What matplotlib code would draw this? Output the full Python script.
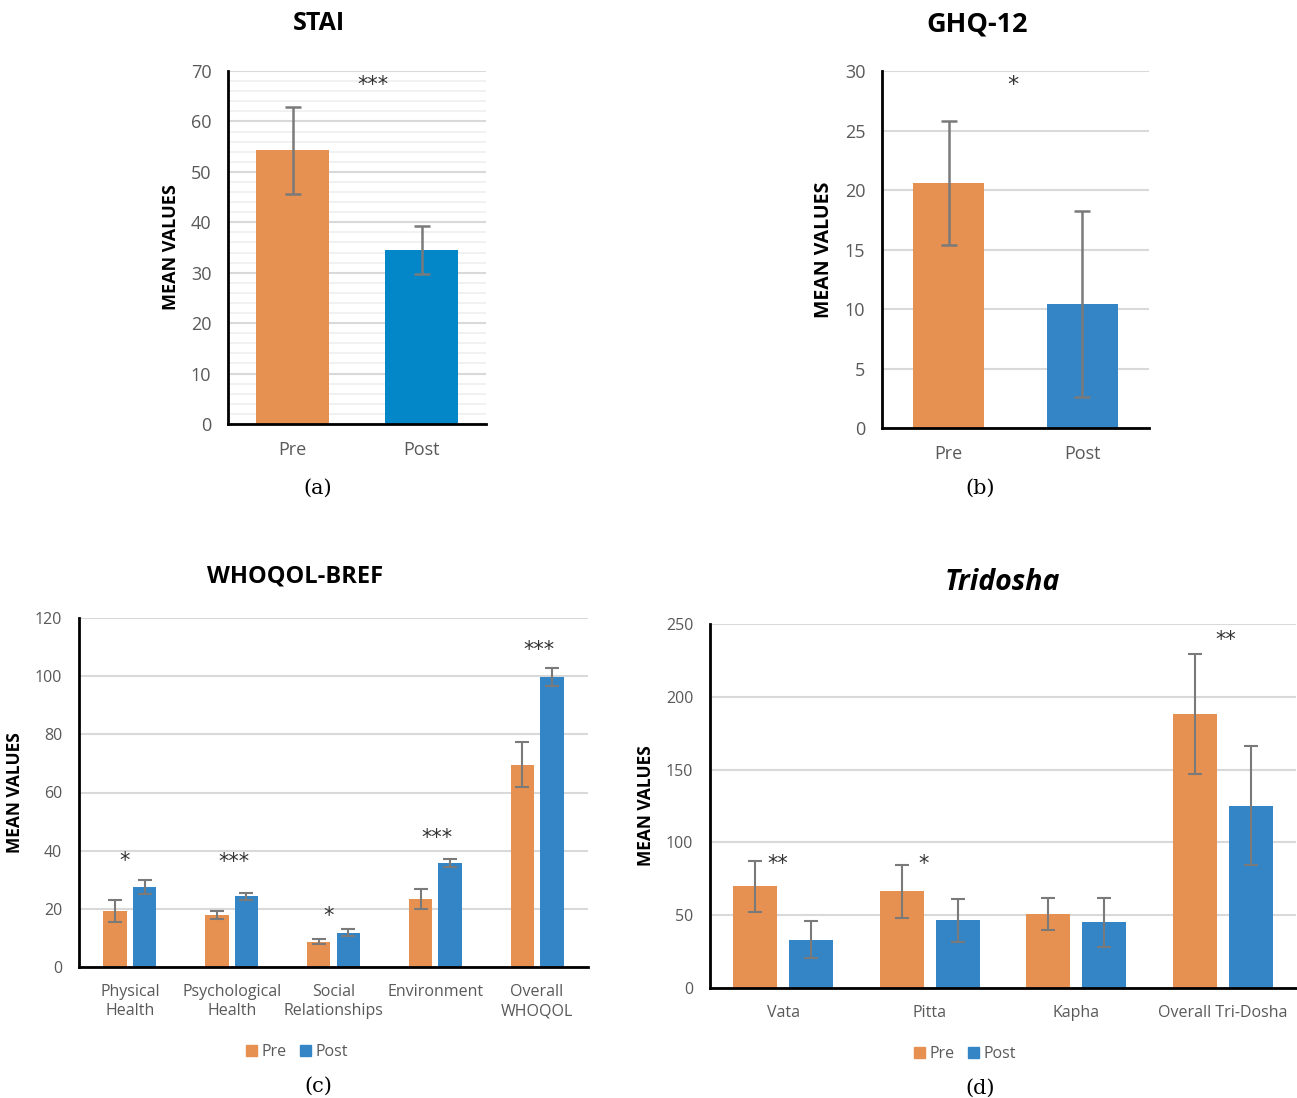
import numpy as np
import matplotlib.pyplot as plt
from matplotlib.patches import Patch

# ---- data ----
stai_labels = ['Pre', 'Post']
stai_mean = [54.3, 34.5]
stai_err = [8.6, 4.8]

ghq_labels = ['Pre', 'Post']
ghq_mean = [20.6, 10.4]
ghq_err = [5.2, 7.8]

who_labels = ['Physical\nHealth', 'Psychological\nHealth', 'Social\nRelationships', 'Environment', 'Overall\nWHOQOL']
who_pre = [19.3, 17.8, 8.7, 23.5, 69.6]
who_pre_err = [3.9, 1.3, 0.8, 3.4, 7.7]
who_post = [27.6, 24.3, 11.8, 35.8, 99.7]
who_post_err = [2.4, 1.3, 1.1, 1.3, 3.1]
who_stars = ['*', '***', '*', '***', '***']
who_star_y = [36.5, 36.0, 17.5, 44.5, 109.0]

tri_labels = ['Vata', 'Pitta', 'Kapha', 'Overall Tri-Dosha']
tri_pre = [69.8, 66.3, 51.0, 188.2]
tri_pre_err = [17.3, 18.2, 10.9, 41.3]
tri_post = [33.1, 46.4, 45.0, 125.3]
tri_post_err = [12.6, 14.8, 17.1, 40.7]
tri_stars = ['**', '*', '', '**']
tri_star_y = [85.0, 85.0, 0, 239.0]

ORANGE = '#E69151'
BLUE = '#3385C6'
BLUE_A = '#0487C9'
ERR = '#7A7A7A'
GRID = '#D9D9D9'
TICK = '#595959'
FONT = 'Open Sans'

W, H = 1297, 1098
fig = plt.figure(figsize=(W / 100, H / 100), dpi=100)


def rect(l, t, r, b):
    return [l / W, 1 - b / H, (r - l) / W, (b - t) / H]


def style(ax, ymax, step, size):
    ax.set_ylim(0, ymax)
    ax.set_yticks(np.arange(0, ymax + 1, step))
    ax.yaxis.grid(True, color=GRID, lw=1.5)
    ax.set_axisbelow(True)
    for s in ['top', 'right']:
        ax.spines[s].set_visible(False)
    ax.spines['left'].set_linewidth(2)
    ax.spines['bottom'].set_linewidth(2)
    ax.tick_params(which='both', length=0)
    ax.tick_params(labelsize=size, labelcolor=TICK, pad=12)
    for lab in ax.get_xticklabels() + ax.get_yticklabels():
        lab.set_family(FONT)


ekw = dict(ecolor=ERR, elinewidth=1.8, capsize=6, capthick=1.8)
sekw = dict(ecolor=ERR, elinewidth=1.5, capsize=5, capthick=1.5)

# ---- (a) STAI ----
ax = fig.add_axes(rect(228, 71, 486, 424))
x = np.arange(len(stai_labels))
ax.bar(x, stai_mean, width=0.57, color=[ORANGE, BLUE_A], yerr=stai_err, error_kw=ekw)
ax.set_xlim(-0.5, 1.5)
ax.set_xticks(x)
ax.set_xticklabels(stai_labels)
ax.set_yticks(np.arange(0, 71, 2), minor=True)
ax.yaxis.grid(True, which='minor', color='#EFEFEF', lw=1.2)
style(ax, 70, 10, 13)
ax.set_ylabel('MEAN VALUES', fontsize=13, fontweight='bold', family=FONT, labelpad=8)
ax.text(0.62, 67.3, '***', ha='center', va='center', fontsize=15, color='#333333')
fig.text(319 / W, 1 - 24 / H, 'STAI', ha='center', va='center', fontsize=18, fontweight='bold', family=FONT)
fig.text(318 / W, 1 - 488 / H, '(a)', ha='center', va='center', fontsize=15, family='DejaVu Serif')

# ---- (b) GHQ-12 ----
ax = fig.add_axes(rect(882, 71, 1149, 428))
x = np.arange(len(ghq_labels))
ax.bar(x, ghq_mean, width=0.53, color=[ORANGE, BLUE], yerr=ghq_err, error_kw=ekw)
ax.set_xlim(-0.5, 1.5)
ax.set_xticks(x)
ax.set_xticklabels(ghq_labels)
style(ax, 30, 5, 13)
ax.set_ylabel('MEAN VALUES', fontsize=14, fontweight='bold', family=FONT, labelpad=8)
ax.text(0.48, 28.8, '*', ha='center', va='center', fontsize=16, color='#333333')
fig.text(977 / W, 1 - 24 / H, 'GHQ-12', ha='center', va='center', fontsize=19.5, fontweight='bold', family=FONT)
fig.text(980 / W, 1 - 488 / H, '(b)', ha='center', va='center', fontsize=15, family='DejaVu Serif')

# ---- (c) WHOQOL-BREF ----
ax = fig.add_axes(rect(79, 618, 588, 967))
x = np.arange(len(who_labels))
bw = 0.23
ax.bar(x - 0.145, who_pre, width=bw, color=ORANGE, yerr=who_pre_err, error_kw=sekw)
ax.bar(x + 0.145, who_post, width=bw, color=BLUE, yerr=who_post_err, error_kw=sekw)
for xi, s, yy in zip(x, who_stars, who_star_y):
    ax.text(xi + (0.02 if len(s) > 1 else -0.05), yy, s, ha='center', va='center',
            fontsize=15, color='#333333')
ax.set_xlim(-0.5, len(x) - 0.5)
ax.set_xticks(x)
ax.set_xticklabels(who_labels, linespacing=1.3)
style(ax, 120, 20, 11.5)
ax.set_ylabel('MEAN VALUES', fontsize=12.5, fontweight='bold', family=FONT, labelpad=8)
fig.text(295 / W, 1 - 577 / H, 'WHOQOL-BREF', ha='center', va='center', fontsize=17, fontweight='bold', family=FONT)
fig.legend(handles=[Patch(color=ORANGE, label='Pre'), Patch(color=BLUE, label='Post')],
           loc='center', bbox_to_anchor=(297 / W, 1 - 1052 / H), ncol=2, frameon=False,
           handlelength=0.7, handleheight=0.7, handletextpad=0.3, columnspacing=0.8,
           prop={'family': FONT, 'size': 11.5}, labelcolor=TICK)
fig.text(318 / W, 1 - 1086 / H, '(c)', ha='center', va='center', fontsize=15, family='DejaVu Serif')

# ---- (d) Tridosha ----
ax = fig.add_axes(rect(710, 624, 1296, 988))
x = np.arange(len(tri_labels))
bw = 0.30
ax.bar(x - 0.19, tri_pre, width=bw, color=ORANGE, yerr=tri_pre_err, error_kw=sekw)
ax.bar(x + 0.19, tri_post, width=bw, color=BLUE, yerr=tri_post_err, error_kw=sekw)
for xi, s, yy in zip(x, tri_stars, tri_star_y):
    if s:
        ax.text(xi - (0.04 if xi < 3 else -0.02), yy, s, ha='center', va='center',
                fontsize=15, color='#333333')
ax.set_xlim(-0.5, len(x) - 0.5)
ax.set_xticks(x)
ax.set_xticklabels(tri_labels)
style(ax, 250, 50, 11.5)
ax.set_ylabel('MEAN VALUES', fontsize=12.5, fontweight='bold', family=FONT, labelpad=8)
fig.text(1002 / W, 1 - 582 / H, 'Tridosha', ha='center', va='center', fontsize=20.5,
         fontweight='bold', style='italic', family=FONT)
fig.legend(handles=[Patch(color=ORANGE, label='Pre'), Patch(color=BLUE, label='Post')],
           loc='center', bbox_to_anchor=(965 / W, 1 - 1054 / H), ncol=2, frameon=False,
           handlelength=0.7, handleheight=0.7, handletextpad=0.3, columnspacing=0.8,
           prop={'family': FONT, 'size': 11.5}, labelcolor=TICK)
fig.text(980 / W, 1 - 1088 / H, '(d)', ha='center', va='center', fontsize=15, family='DejaVu Serif')

fig.savefig('out.png', dpi=100)
